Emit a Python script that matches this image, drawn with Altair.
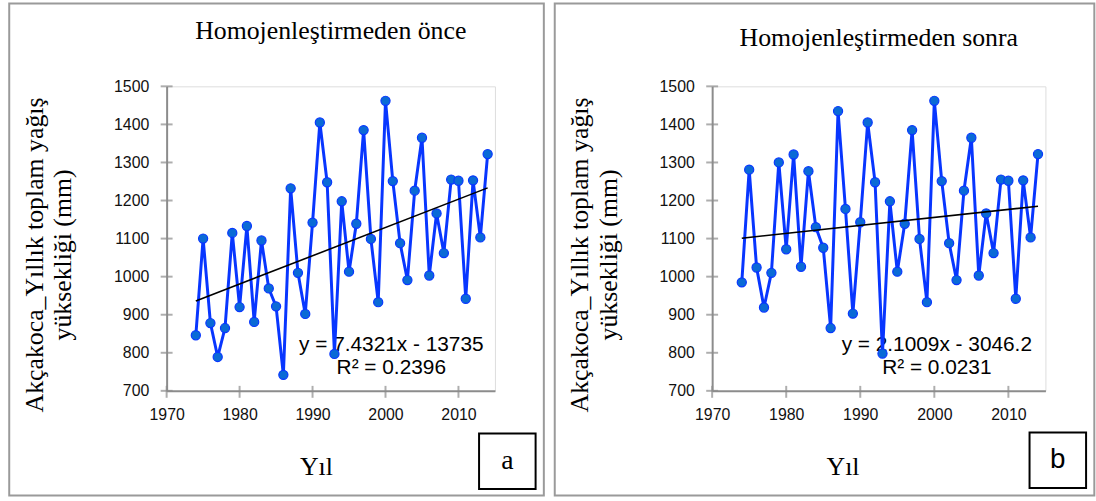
import altair as alt
import pandas as pd

# Annual total precipitation at Akçakoca (mm), 1974-2014
years = list(range(1974, 2015))
before = [846, 1100, 878, 789, 865, 1115, 920, 1133, 881, 1095,
          969, 922, 742, 1232, 1010, 902, 1142, 1405, 1248, 797,
          1198, 1013, 1139, 1385, 1099, 933, 1462, 1251, 1088, 991,
          1226, 1365, 1003, 1166, 1062, 1255, 1252, 942, 1253, 1103, 1322]
after = [985, 1281, 1024, 919, 1010, 1300, 1072, 1321, 1026, 1277,
         1130, 1076, 865, 1435, 1178, 903, 1143, 1405, 1248, 798,
         1198, 1013, 1139, 1385, 1099, 933, 1462, 1251, 1088, 991,
         1226, 1365, 1003, 1166, 1062, 1255, 1252, 942, 1253, 1103, 1322]

# Linear trend coefficients and R² for each series
trend_before = (7.4321, -13735, 0.2396)
trend_after = (2.1009, -3046.2, 0.0231)

x_ticks = [1970, 1980, 1990, 2000, 2010]
y_ticks = [700, 800, 900, 1000, 1100, 1200, 1300, 1400, 1500]

SERIF = "Liberation Serif"
SANS = "Liberation Sans"
AXIS_GREY = "#8c8c8c"
LINE_BLUE = "#0836ff"
MARKER_BLUE = "#0a6ad6"
H = 307


def fmt_eq(slope, icpt):
    sign = "-" if icpt < 0 else "+"
    return f"y = {slope:g}x {sign} {abs(icpt):g}"


def panel(values, trend, title, letter, letter_font, w, title_y, yil_x, box):
    slope, icpt, r2 = trend
    df = pd.DataFrame({"year": years, "value": values})
    tdf = pd.DataFrame({"year": [years[0], years[-1]],
                        "value": [slope * years[0] + icpt, slope * years[-1] + icpt]})
    one = pd.DataFrame({"k": [0]})

    xs = alt.Scale(domain=[1970, 2015], nice=False, zero=False)
    ys = alt.Scale(domain=[700, 1500], nice=False, zero=False)

    x_axis = alt.Axis(values=x_ticks, format="d", title=None, grid=False, ticks=False,
                      labelFont=SANS, labelFontSize=16, labelColor="#111111",
                      labelOverlap=False, labelFlush=False,
                      labelPadding=16, domainColor=AXIS_GREY, domainWidth=2)
    y_axis = alt.Axis(values=y_ticks, format="d", title=None, grid=False, ticks=False,
                      labelFont=SANS, labelFontSize=16, labelColor="#111111",
                      labelOverlap=False, labelFlush=False,
                      labelPadding=18, domainColor=AXIS_GREY, domainWidth=2)

    def X(field):
        return alt.X(field, scale=xs, axis=x_axis)

    def Y(field):
        return alt.Y(field, scale=ys, axis=y_axis)

    frame = alt.Chart(one).mark_rect(filled=False, stroke="#9a9a9a", strokeWidth=2).encode(
        x=alt.value(-158.7), x2=alt.value(w + 49.3),
        y=alt.value(-83.5), y2=alt.value(412.5))

    line = alt.Chart(df).mark_line(color=LINE_BLUE, strokeWidth=3).encode(
        x=X("year:Q"), y=Y("value:Q"))
    pts = alt.Chart(df).mark_circle(size=85, color=MARKER_BLUE, opacity=1,
                                    stroke=LINE_BLUE, strokeWidth=1.2).encode(
        x=X("year:Q"), y=Y("value:Q"))
    trend_line = alt.Chart(tdf).mark_line(color="black", strokeWidth=1.6).encode(
        x=X("year:Q"), y=Y("value:Q"))

    ytick = alt.Chart(pd.DataFrame({"v": y_ticks})).mark_tick(
        orient="horizontal", color=AXIS_GREY, thickness=2, size=12).encode(
        y=Y("v:Q"), x=alt.value(0))
    xtick = alt.Chart(pd.DataFrame({"v": x_ticks})).mark_tick(
        orient="vertical", color=AXIS_GREY, thickness=2, size=12).encode(
        x=X("v:Q"), y=alt.value(H + 1))

    eq = alt.Chart(pd.DataFrame({"t": [fmt_eq(slope, icpt) + "\nR² = " + f"{r2:.4f}"]})).mark_text(
        font=SANS, fontSize=21, color="black", align="center", baseline="middle",
        lineBreak="\n", lineHeight=23).encode(
        text="t:N", x=alt.value(226.5), y=alt.value(261))

    ttl = alt.Chart(pd.DataFrame({"t": [title]})).mark_text(
        font=SERIF, fontSize=26, color="black", align="center", baseline="alphabetic").encode(
        text="t:N", x=alt.value(w / 2), y=alt.value(title_y))

    ytitle = alt.Chart(pd.DataFrame({"t": ["Akçakoca_Yıllık toplam yağış\nyüksekliği (mm)"]})).mark_text(
        font=SERIF, fontSize=26, color="black", align="center", baseline="middle",
        angle=270, lineBreak="\n", lineHeight=29).encode(
        text="t:N", x=alt.value(-133), y=alt.value(170))

    xtitle = alt.Chart(pd.DataFrame({"t": ["Yıl"]})).mark_text(
        font=SERIF, fontSize=26, color="black", align="center", baseline="alphabetic").encode(
        text="t:N", x=alt.value(yil_x), y=alt.value(392))

    bx0, bx1, by0, by1 = box
    lbox = alt.Chart(one).mark_rect(filled=False, stroke="black", strokeWidth=2).encode(
        x=alt.value(bx0), x2=alt.value(bx1), y=alt.value(by0), y2=alt.value(by1))
    ltxt = alt.Chart(pd.DataFrame({"t": [letter]})).mark_text(
        font=letter_font, fontSize=28, color="black", align="center", baseline="middle").encode(
        text="t:N", x=alt.value((bx0 + bx1) / 2), y=alt.value((by0 + by1) / 2))

    return alt.layer(frame, eq, line, pts, trend_line, ytick, xtick, ttl, ytitle,
                     xtitle, lbox, ltxt).properties(width=w, height=H)


left = panel(before, trend_before, "Homojenleştirmeden önce", "a", SERIF, 331,
             -48, 151, (315, 372, 350, 406))
right = panel(after, trend_after, "Homojenleştirmeden sonra", "b", SANS, 336,
              -41, 132, (320, 377, 349, 405))

chart = alt.hconcat(left, right, spacing=7).properties(
    padding={"left": 7, "top": 0, "right": 0, "bottom": 0}
).configure_view(stroke="#d9d9d9", strokeWidth=1.5).configure(background="white")

chart.save("out.html", embed_options={"renderer": "svg", "actions": False})
